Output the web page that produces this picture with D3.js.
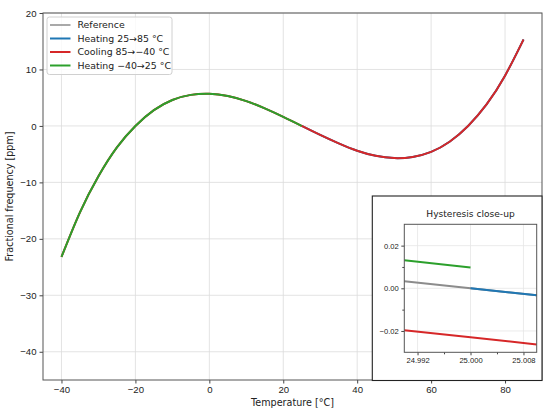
<!DOCTYPE html>
<html>
<head>
<meta charset="utf-8">
<script src="https://cdn.jsdelivr.net/npm/d3@7"></script>
<style>
  body { margin: 0; background: #fff; }
  svg { display: block; font-family: "DejaVu Sans", sans-serif; }
</style>
</head>
<body>
<div id="graph"></div>
<script>
// main curve, read every 5 °C
const temperatures = [-40, -35, -30, -25, -20, -15, -10, -5, 0, 5, 10, 15, 20,
                      25, 30, 35, 40, 45, 50, 55, 60, 65, 70, 75, 80, 85];
const referencePpm = [-23.2, -15.3, -8.9, -3.8, 0.0, 2.8, 4.6, 5.5, 5.7, 5.3, 4.4, 3.1, 1.6,
                      0.0, -1.6, -3.1, -4.4, -5.3, -5.7, -5.5, -4.6, -2.8, 0.0, 3.8, 8.9, 15.3];

const seriesNames = ["Reference", "Heating 25→85 °C", "Cooling 85→−40 °C", "Heating −40→25 °C"];
const seriesRanges = [[-40, 85], [25, 85], [-40, 85], [-40, 25]];
const seriesColors = ["#8c8c8c", "#1f77b4", "#d62728", "#2ca02c"];
const seriesWidths = [1.5, 2, 2, 2];

// close-up around 25 °C
const closeTemps = [24.990, 25.000, 25.010];
const closeReference = [0.0033, 0.0000, -0.0033];
const closeHeatUp = [null, 0.0000, -0.0033];
const closeCooling = [-0.0197, -0.0230, -0.0263];
const closeWarmUp = [0.0131, 0.0098, null];

const xTicks = [-40, -20, 0, 20, 40, 60, 80];
const yTicks = [-40, -30, -20, -10, 0, 10, 20];
const closeXTicks = [24.992, 25.000, 25.008];
const closeXMinor = [24.996, 25.004];
const closeYTicks = [-0.02, 0.00, 0.02];
const closeYMinor = [-0.01, 0.01];

const width = 550;
const height = 411;
const marginLeft = 43;
const marginTop = 13;
const marginRight = 8;
const marginBottom = 31;

const xScale = d3.scaleLinear()
                 .domain([-45, 90])
                 .range([marginLeft, width - marginRight]);

const yScale = d3.scaleLinear()
                 .domain([-45, 20])
                 .range([height - marginBottom, marginTop]);

const svg = d3.create("svg")
              .attr("width", width)
              .attr("height", height);

//grid
svg.append("g")
   .selectAll("line")
   .data(xTicks)
   .join("line")
   .attr("x1", d => xScale(d)).attr("x2", d => xScale(d))
   .attr("y1", marginTop).attr("y2", height - marginBottom)
   .attr("stroke", "#dcdcdc").attr("stroke-width", 0.8);

svg.append("g")
   .selectAll("line")
   .data(yTicks)
   .join("line")
   .attr("y1", d => yScale(d)).attr("y2", d => yScale(d))
   .attr("x1", marginLeft).attr("x2", width - marginRight)
   .attr("stroke", "#dcdcdc").attr("stroke-width", 0.8);

//curves
const line = d3.line()
               .x(d => xScale(d[0]))
               .y(d => yScale(d[1]))
               .curve(d3.curveNatural);

seriesNames.forEach((name, i) => {
  const [from, to] = seriesRanges[i];
  const points = temperatures.map((t, j) => [t, referencePpm[j]])
                             .filter(d => d[0] >= from && d[0] <= to);
  svg.append("path")
     .datum(points)
     .attr("d", line)
     .attr("fill", "none")
     .attr("stroke", seriesColors[i])
     .attr("stroke-width", seriesWidths[i]);
});

//axes
const xAxis = d3.axisBottom(xScale).tickValues(xTicks).tickSize(3.5).tickPadding(3);
const yAxis = d3.axisLeft(yScale).tickValues(yTicks).tickSize(3.5).tickPadding(3);

const gx = svg.append("g")
   .attr("transform", `translate(0, ${height - marginBottom})`)
   .call(xAxis);
const gy = svg.append("g")
   .attr("transform", `translate(${marginLeft}, 0)`)
   .call(yAxis);

[gx, gy].forEach(g => {
  g.select(".domain").remove();
  g.selectAll(".tick line").attr("stroke", "#444");
  g.selectAll("text").attr("fill", "#222").style("font-size", "9.6px");
});

svg.append("rect")
   .attr("x", marginLeft)
   .attr("y", marginTop)
   .attr("width", width - marginLeft - marginRight)
   .attr("height", height - marginTop - marginBottom)
   .attr("fill", "none")
   .attr("stroke", "#555")
   .attr("stroke-width", 1);

svg.append("text")
   .attr("x", (marginLeft + width - marginRight) / 2)
   .attr("y", 406)
   .attr("text-anchor", "middle")
   .attr("fill", "#222")
   .style("font-size", "9.6px")
   .text("Temperature [°C]");

svg.append("text")
   .attr("transform", "rotate(270)")
   .attr("x", -(marginTop + height - marginBottom) / 2)
   .attr("y", 13)
   .attr("text-anchor", "middle")
   .attr("fill", "#222")
   .style("font-size", "9.6px")
   .text("Fractional frequency [ppm]");

//legend
const legend = svg.append("g")
                  .attr("transform", "translate(47, 17)");

legend.append("rect")
      .attr("width", 125)
      .attr("height", 57.5)
      .attr("rx", 2.5)
      .attr("fill", "#fff")
      .attr("fill-opacity", 0.8)
      .attr("stroke", "#d0d0d0");

seriesNames.forEach((name, i) => {
  const y = 8 + i * 13.5;
  legend.append("line")
        .attr("x1", 3).attr("x2", 23.5)
        .attr("y1", y).attr("y2", y)
        .attr("stroke", seriesColors[i])
        .attr("stroke-width", seriesWidths[i]);
  legend.append("text")
        .attr("x", 30.5)
        .attr("y", y + 3.4)
        .attr("fill", "#222")
        .style("font-size", "9.4px")
        .text(name);
});

//inset frame
const boxLeft = 372.3;
const boxTop = 196;
svg.append("rect")
   .attr("x", boxLeft)
   .attr("y", boxTop)
   .attr("width", width - marginRight - boxLeft)
   .attr("height", height - marginBottom - boxTop + 0.5)
   .attr("fill", "#fff")
   .attr("stroke", "#222")
   .attr("stroke-width", 1.1);

const cx = d3.scaleLinear()
             .domain([24.990, 25.010])
             .range([404.3, 536.7]);

const cy = d3.scaleLinear()
             .domain([-0.03, 0.03])
             .range([352.3, 224.3]);

const inset = svg.append("g");

inset.append("g")
     .selectAll("line")
     .data(closeXTicks)
     .join("line")
     .attr("x1", d => cx(d)).attr("x2", d => cx(d))
     .attr("y1", cy.range()[1]).attr("y2", cy.range()[0])
     .attr("stroke", "#e6e6e6").attr("stroke-width", 0.8);

inset.append("g")
     .selectAll("line")
     .data(closeYTicks)
     .join("line")
     .attr("y1", d => cy(d)).attr("y2", d => cy(d))
     .attr("x1", cx.range()[0]).attr("x2", cx.range()[1])
     .attr("stroke", "#e6e6e6").attr("stroke-width", 0.8);

const closeLine = d3.line()
                    .defined(d => d[1] !== null)
                    .x(d => cx(d[0]))
                    .y(d => cy(d[1]));

[closeReference, closeHeatUp, closeCooling, closeWarmUp].forEach((values, i) => {
  inset.append("path")
       .datum(closeTemps.map((t, j) => [t, values[j]]))
       .attr("d", closeLine)
       .attr("fill", "none")
       .attr("stroke", seriesColors[i])
       .attr("stroke-width", 2);
});

const cxAxis = d3.axisBottom(cx).tickValues(closeXTicks).tickFormat(d3.format(".3f")).tickSize(3).tickPadding(2.5);
const cyAxis = d3.axisLeft(cy).tickValues(closeYTicks).tickFormat(d3.format(".2f")).tickSize(3).tickPadding(2.5);
const cxMinor = d3.axisBottom(cx).tickValues(closeXMinor).tickFormat("").tickSize(2);
const cyMinor = d3.axisLeft(cy).tickValues(closeYMinor).tickFormat("").tickSize(2);

[[cxAxis, cxMinor, `translate(0, ${cy.range()[0]})`],
 [cyAxis, cyMinor, `translate(${cx.range()[0]}, 0)`]].forEach(([major, minor, tr]) => {
  const g = inset.append("g").attr("transform", tr).call(major);
  const m = inset.append("g").attr("transform", tr).call(minor);
  g.select(".domain").remove();
  m.select(".domain").remove();
  g.selectAll(".tick line").attr("stroke", "#444");
  m.selectAll(".tick line").attr("stroke", "#444");
  g.selectAll("text").attr("fill", "#222").style("font-size", "7.6px");
});

inset.append("rect")
     .attr("x", cx.range()[0])
     .attr("y", cy.range()[1])
     .attr("width", cx.range()[1] - cx.range()[0])
     .attr("height", cy.range()[0] - cy.range()[1])
     .attr("fill", "none")
     .attr("stroke", "#555")
     .attr("stroke-width", 1);

inset.append("text")
     .attr("x", (cx.range()[0] + cx.range()[1]) / 2)
     .attr("y", 216.5)
     .attr("text-anchor", "middle")
     .attr("fill", "#222")
     .style("font-size", "9.1px")
     .text("Hysteresis close-up");

d3.select("#graph").append(() => svg.node());
</script>
</body>
</html>
